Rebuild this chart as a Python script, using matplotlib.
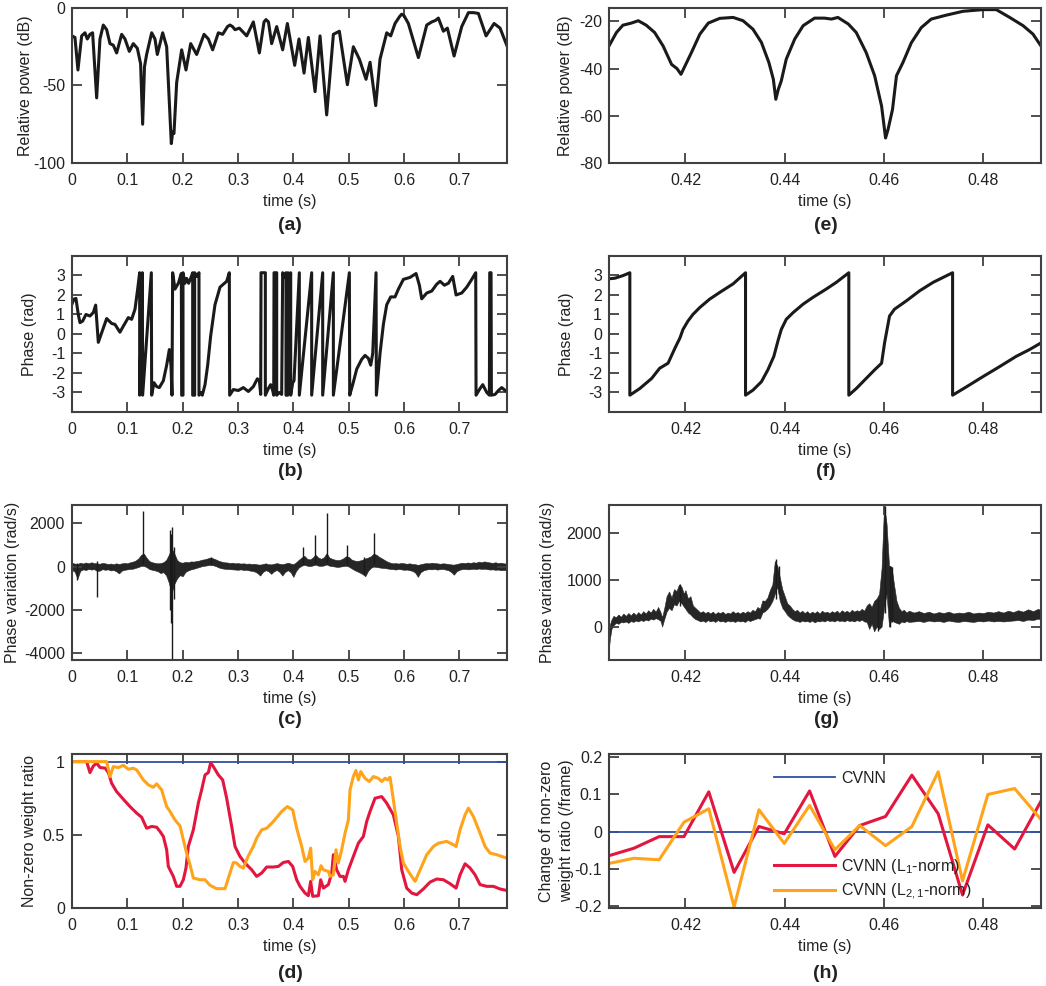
import matplotlib
matplotlib.use('Agg')
import matplotlib.pyplot as plt

plt.rcParams['font.family'] = ['Liberation Sans', 'DejaVu Sans']
plt.rcParams['mathtext.fontset'] = 'custom'
plt.rcParams['mathtext.rm'] = 'Liberation Sans'
plt.rcParams['font.size'] = 11.5

# ---- (a) relative power, full record ----
a_t = [0.0, 0.0054, 0.0108, 0.0175, 0.0235, 0.0277, 0.0325, 0.0373, 0.0446, 0.0506,
       0.0566, 0.0627, 0.0687, 0.0747, 0.0807, 0.0898, 0.0958, 0.1036, 0.1108, 0.1181,
       0.124, 0.1277, 0.131, 0.1349, 0.144, 0.15, 0.1542, 0.1639, 0.1711, 0.1795,
       0.1819, 0.1843, 0.1892, 0.1982, 0.206, 0.2145, 0.2253, 0.2386, 0.2464, 0.2542,
       0.2645, 0.2723, 0.281, 0.2855, 0.29, 0.2946, 0.3024, 0.3157, 0.3277, 0.3386,
       0.347, 0.3506, 0.355, 0.3608, 0.3699, 0.3807, 0.3892, 0.4024, 0.4102, 0.4193,
       0.4271, 0.4392, 0.4482, 0.4602, 0.4723, 0.4831, 0.4976, 0.5084, 0.5193, 0.5313,
       0.5386, 0.5488, 0.5566, 0.5687, 0.5759, 0.5837, 0.592, 0.5958, 0.6, 0.6078,
       0.6259, 0.641, 0.65, 0.657, 0.662, 0.6711, 0.6783, 0.6904, 0.7042, 0.7163,
       0.7253, 0.7343, 0.7482, 0.7627, 0.7735, 0.7855]
a_db = [-18, -19, -40, -18, -16, -20, -17, -16, -58, -20,
        -11, -14, -23, -24, -29, -17, -20, -28, -23, -26,
        -36, -75, -38, -30, -16, -20, -30, -16, -25, -87.5,
        -80, -81, -48, -27, -40, -23, -30, -17, -20, -27,
        -16, -17, -12, -11, -12, -14, -13, -18, -9, -29,
        -9, -7.5, -9, -23, -12, -27, -10, -37, -20, -42,
        -19, -54, -18, -69, -17, -15, -49.5, -25, -33, -46,
        -35, -63, -33, -16, -18, -10, -5.5, -4, -5, -10,
        -32, -11, -9, -8, -6.5, -15, -13, -31, -12, -3,
        -3, -3.5, -18, -10, -13, -24]

# ---- (e) relative power, zoom ----
e_t = [0.4046, 0.4061, 0.4074, 0.4091, 0.4105, 0.4121, 0.4138, 0.4155, 0.4172, 0.4183,
       0.4191, 0.4199, 0.4212, 0.4229, 0.4246, 0.4269, 0.4296, 0.4316, 0.4336, 0.4353,
       0.4368, 0.4377, 0.4382, 0.4387, 0.4393, 0.4403, 0.442, 0.4437, 0.446, 0.448,
       0.4494, 0.4507, 0.4528, 0.4544, 0.4564, 0.4581, 0.4595, 0.4603, 0.4608, 0.4617,
       0.4625, 0.4638, 0.4655, 0.4675, 0.4695, 0.4726, 0.4759, 0.4799, 0.4826, 0.4853,
       0.488, 0.49, 0.4916]
e_db = [-30.4, -24.7, -21.6, -20.7, -19.7, -21.6, -24.7, -30.4, -38.2, -40,
        -42.4, -38.9, -33.2, -25.4, -20.7, -18.7, -18.3, -19.7, -23.3, -28.9,
        -37.4, -44.5, -53, -48.8, -45.2, -36, -27.5, -21.8, -18.6, -18.6,
        -19, -18.3, -21.1, -24.7, -33.2, -43, -55.9, -69.4, -65.8, -57.3,
        -43, -37.4, -29, -22.6, -19, -17.3, -15.7, -15, -15, -18.3,
        -21.8, -25.4, -30.4]

# ---- (b) wrapped phase, full record ----
b_t = [0.0, 0.0036, 0.0072, 0.0114, 0.0145, 0.0193, 0.0253, 0.0325, 0.0386, 0.0428,
       0.0476, 0.0536, 0.0627, 0.0717, 0.0777, 0.0867, 0.0928, 0.1018, 0.1078, 0.1139,
       0.1187, 0.1223, 0.1223, 0.1271, 0.1277, 0.1434, 0.144, 0.1482, 0.153, 0.1578,
       0.1651, 0.1711, 0.1759, 0.1789, 0.1807, 0.1819, 0.1861, 0.1922, 0.1976, 0.1982,
       0.2006, 0.2006, 0.2042, 0.2072, 0.2108, 0.2151, 0.2181, 0.2181, 0.2217, 0.2217,
       0.2259, 0.2295, 0.2295, 0.2331, 0.2355, 0.2404, 0.2452, 0.2506, 0.2584, 0.2675,
       0.2795, 0.2843, 0.2849, 0.2916, 0.3006, 0.3096, 0.3187, 0.3277, 0.3349, 0.3386,
       0.341, 0.3416, 0.3494, 0.3494, 0.3548, 0.359, 0.3627, 0.3645, 0.3651, 0.3699,
       0.3699, 0.3747, 0.3789, 0.3807, 0.3831, 0.3867, 0.3867, 0.3898, 0.3904, 0.3928,
       0.3952, 0.3952, 0.3988, 0.4012, 0.4108, 0.4108, 0.4331, 0.4331, 0.453, 0.453,
       0.4723, 0.4723, 0.5012, 0.5018, 0.5072, 0.5145, 0.5235, 0.5295, 0.5355, 0.5398,
       0.5434, 0.5494, 0.55, 0.5566, 0.5627, 0.5687, 0.5759, 0.5837, 0.5898, 0.5988,
       0.6108, 0.6217, 0.6277, 0.6319, 0.641, 0.65, 0.659, 0.6651, 0.6729, 0.6801,
       0.6879, 0.694, 0.7042, 0.7133, 0.7223, 0.7295, 0.7301, 0.7373, 0.7422, 0.7494,
       0.7542, 0.7548, 0.7572, 0.7578, 0.7645, 0.7705, 0.7765, 0.7807, 0.7855]
b_phase = [1.53, 1.79, 1.82, 1.0, 0.58, 0.66, 1.0, 0.92, 1.1, 1.48,
           -0.43, 0.06, 0.79, 0.54, 0.49, 0.09, 0.4, 0.84, 0.75, 1.27,
           2.3, 3.14, -3.14, 3.14, -3.14, 3.14, -3.14, -2.5, -2.7, -2.75,
           -2.4, -1.6, -0.8, -1.6, -3.14, 3.14, 2.3, 2.6, 3.1, -3.14,
           -3.14, 3.14, 2.6, 2.85, 2.6, 2.9, 3.14, -3.14, -3.14, 3.14,
           2.95, 3.14, -3.14, -3.0, -3.14, -2.6, -1.6, -0.1, 1.5, 2.4,
           2.7, 3.14, -3.14, -2.85, -2.9, -2.75, -2.95, -2.7, -2.3, -2.4,
           -3.1, 3.14, 3.14, -3.14, -2.8, -2.6, -2.9, -3.14, 3.14, 3.14,
           -3.14, -3.0, -3.1, 3.14, 2.9, 3.14, -3.14, -3.14, 3.14, 2.9,
           3.14, -3.14, -2.5, -2.4, 3.14, -3.14, 3.14, -3.14, 3.14, -3.14,
           3.14, -3.14, 3.14, -3.14, -2.6, -1.8, -1.3, -1.1, -1.25, -1.6,
           -1.0, 3.14, -3.14, -1.0, 0.5, 1.5, 1.9, 1.9, 2.3, 2.8,
           2.9, 3.1, 2.5, 1.8, 2.1, 2.2, 2.55, 2.7, 2.5, 2.6,
           2.95, 2.0, 2.1, 2.4, 2.8, 3.14, -3.14, -2.8, -2.6, -3.0,
           -3.14, 3.14, 3.14, -3.14, -3.1, -2.9, -2.75, -2.85, -2.95]

# ---- (f) wrapped phase, zoom ----
f_t = [0.4046, 0.4058, 0.4075, 0.4088, 0.4088, 0.4108, 0.4132, 0.4148, 0.4165, 0.4179,
       0.4189, 0.4195, 0.4205, 0.4215, 0.4229, 0.4249, 0.4269, 0.4296, 0.4321, 0.4321,
       0.4336, 0.4353, 0.4366, 0.4378, 0.4387, 0.4393, 0.4403, 0.4417, 0.4437, 0.4457,
       0.4484, 0.4504, 0.4529, 0.4529, 0.4544, 0.4564, 0.4581, 0.4595, 0.4601, 0.4606,
       0.4611, 0.4621, 0.4645, 0.4672, 0.4699, 0.4738, 0.4738, 0.4766, 0.4799, 0.4833,
       0.4866, 0.4893, 0.4916]
f_phase = [2.83, 2.86, 3.0, 3.14, -3.14, -2.8, -2.28, -1.76, -1.5, -0.72,
           -0.2, 0.23, 0.66, 1.0, 1.36, 1.79, 2.13, 2.57, 3.14, -3.14,
           -2.88, -2.45, -1.84, -1.15, -0.29, 0.23, 0.75, 1.1, 1.53, 1.88,
           2.31, 2.65, 3.14, -3.14, -2.8, -2.28, -1.84, -1.5, -0.46, 0.23,
           0.92, 1.27, 1.7, 2.22, 2.65, 3.14, -3.14, -2.71, -2.19, -1.67,
           -1.15, -0.8, -0.46]

# ---- (c) phase variation, full record: noise envelope + spikes ----
c_t = [0.000, 0.005, 0.010, 0.015, 0.020, 0.025, 0.030, 0.035, 0.040, 0.045,
       0.050, 0.055, 0.060, 0.065, 0.070, 0.075, 0.080, 0.085, 0.090, 0.095,
       0.100, 0.105, 0.110, 0.115, 0.120, 0.125, 0.130, 0.135, 0.140, 0.145,
       0.150, 0.155, 0.160, 0.165, 0.170, 0.175, 0.180, 0.185, 0.190, 0.195,
       0.200, 0.205, 0.210, 0.215, 0.220, 0.225, 0.230, 0.235, 0.240, 0.245,
       0.250, 0.255, 0.260, 0.265, 0.270, 0.275, 0.280, 0.285, 0.290, 0.295,
       0.300, 0.305, 0.310, 0.315, 0.320, 0.325, 0.330, 0.335, 0.340, 0.345,
       0.350, 0.355, 0.360, 0.365, 0.370, 0.375, 0.380, 0.385, 0.390, 0.395,
       0.400, 0.405, 0.410, 0.415, 0.420, 0.425, 0.430, 0.435, 0.440, 0.445,
       0.450, 0.455, 0.460, 0.465, 0.470, 0.475, 0.480, 0.485, 0.490, 0.495,
       0.500, 0.505, 0.510, 0.515, 0.520, 0.525, 0.530, 0.535, 0.540, 0.545,
       0.550, 0.555, 0.560, 0.565, 0.570, 0.575, 0.580, 0.585, 0.590, 0.595,
       0.600, 0.605, 0.610, 0.615, 0.620, 0.625, 0.630, 0.635, 0.640, 0.645,
       0.650, 0.655, 0.660, 0.665, 0.670, 0.675, 0.680, 0.685, 0.690, 0.695,
       0.700, 0.705, 0.710, 0.715, 0.720, 0.725, 0.730, 0.735, 0.740, 0.745,
       0.750, 0.755, 0.760, 0.765, 0.770, 0.775, 0.780, 0.786]
c_hi = [170, 140, 120, 180, 140, 190, 150, 200, 160, 150,
        130, 170, 150, 120, 140, 110, 150, 120, 150, 170,
        150, 200, 230, 280, 380, 550, 600, 400, 250, 200,
        170, 150, 160, 200, 300, 550, 850, 600, 300, 200,
        180, 220, 200, 240, 230, 260, 280, 320, 340, 380,
        420, 380, 330, 270, 230, 200, 190, 170, 180, 150,
        160, 140, 150, 130, 140, 120, 130, 100, 90, 120,
        150, 110, 100, 130, 160, 130, 110, 140, 180, 140,
        110, 200, 320, 420, 500, 360, 330, 420, 550, 420,
        360, 430, 620, 420, 360, 320, 300, 320, 380, 480,
        450, 330, 280, 260, 280, 320, 380, 420, 480, 600,
        550, 450, 380, 300, 230, 180, 150, 160, 140, 170,
        150, 130, 150, 120, 110, 80, 110, 140, 160, 150,
        180, 160, 150, 130, 150, 140, 120, 100, 90, 120,
        150, 180, 160, 190, 170, 200, 180, 230, 200, 240,
        210, 190, 170, 200, 160, 180, 150, 140]
c_lo = [-150, -250, -560, -200, -130, -160, -110, -140, -120, -200,
        -190, -120, -150, -130, -180, -160, -220, -320, -190, -150,
        -130, -110, -100, -60, -20, 30, 30, -30, -120, -150,
        -180, -220, -300, -260, -400, -750, -1250, -800, -550, -400,
        -450, -250, -180, -130, -100, -60, -20, 20, 40, 60,
        80, 60, 20, -40, -80, -100, -110, -120, -130, -140,
        -150, -130, -160, -150, -180, -200, -230, -300, -420, -250,
        -170, -220, -340, -220, -160, -250, -420, -250, -170, -260,
        -480, -200, -40, 40, 80, 40, 20, 50, 90, 40,
        30, 50, 100, 40, 20, 0, -20, 0, 20, 40,
        0, -80, -160, -220, -280, -350, -450, -200, -60, 0,
        -20, -40, -60, -70, -90, -110, -120, -140, -110, -130,
        -150, -140, -170, -200, -280, -480, -260, -180, -140, -120,
        -130, -110, -140, -120, -110, -140, -170, -250, -380, -220,
        -150, -120, -110, -130, -120, -100, -120, -90, -110, -100,
        -120, -140, -130, -150, -140, -170, -160, -180]
c_spike_t = [0.0095, 0.0456, 0.1283, 0.1775, 0.179, 0.1815, 0.1835, 0.2505,
             0.4175, 0.4385, 0.4603, 0.4975, 0.5285, 0.5455]
c_spike_hi = [150, 250, 2580, 1700, 1500, 1850, 900, 450,
              900, 1450, 2500, 1000, 460, 1550]
c_spike_lo = [-620, -1400, 100, -2000, -2600, -4330, -1500, 50,
              100, 150, 150, 100, -350, 100]

# ---- (g) phase variation, zoom: noise envelope + spikes ----
g_t = [0.4046, 0.4048, 0.4051, 0.4055, 0.406, 0.4065, 0.407, 0.4075, 0.408, 0.4085,
       0.409, 0.4095, 0.410, 0.4105, 0.411, 0.4115, 0.412, 0.4125, 0.413, 0.4135,
       0.414, 0.4145, 0.415, 0.4153, 0.4157, 0.4162, 0.4167, 0.4172, 0.4177, 0.4182,
       0.4187, 0.4192, 0.4197, 0.420, 0.4205, 0.421, 0.4215, 0.422, 0.4225, 0.423,
       0.4235, 0.424, 0.4245, 0.425, 0.4255, 0.426, 0.4265, 0.427, 0.4275, 0.428,
       0.4285, 0.429, 0.4295, 0.430, 0.4305, 0.431, 0.4315, 0.432, 0.4325, 0.433,
       0.4335, 0.434, 0.4345, 0.435, 0.4355, 0.436, 0.4365, 0.437, 0.4375, 0.438,
       0.4385, 0.439, 0.4395, 0.440, 0.4405, 0.441, 0.4415, 0.442, 0.4425, 0.443,
       0.4435, 0.444, 0.4445, 0.445, 0.4455, 0.446, 0.4465, 0.447, 0.4475, 0.448,
       0.4485, 0.449, 0.4495, 0.450, 0.4505, 0.451, 0.4515, 0.452, 0.4525, 0.453,
       0.4535, 0.454, 0.4545, 0.455, 0.4555, 0.456, 0.4565, 0.457, 0.4575, 0.458,
       0.4585, 0.459, 0.4595, 0.460, 0.4605, 0.461, 0.4615, 0.462, 0.4625, 0.463,
       0.4635, 0.464, 0.4645, 0.465, 0.466, 0.467, 0.468, 0.469, 0.470, 0.471,
       0.472, 0.473, 0.474, 0.475, 0.476, 0.477, 0.478, 0.479, 0.480, 0.481,
       0.482, 0.483, 0.484, 0.485, 0.486, 0.487, 0.488, 0.489, 0.490, 0.491, 0.4916]
g_hi = [-150, 50, 150, 230, 200, 260, 210, 280, 230, 290,
        240, 300, 250, 310, 260, 330, 280, 350, 300, 380,
        320, 420, 300, 200, 380, 650, 750, 620, 800, 760,
        900, 850, 700, 780, 600, 650, 450, 400, 350, 300,
        330, 290, 320, 280, 320, 270, 310, 290, 320, 270,
        300, 280, 330, 290, 310, 280, 320, 290, 330, 300,
        360, 330, 420, 380, 560, 550, 620, 780, 900, 1400,
        1300, 1050, 800, 650, 500, 450, 380, 330, 360, 300,
        340, 290, 330, 280, 320, 290, 330, 280, 340, 300,
        320, 290, 330, 300, 340, 290, 350, 310, 340, 300,
        360, 320, 350, 330, 380, 340, 450, 500, 420, 550,
        600, 700, 1250, 2600, 2200, 1300, 1280, 900, 550, 400,
        330, 360, 300, 340, 300, 330, 290, 320, 280, 310,
        290, 320, 280, 300, 290, 320, 280, 300, 290, 320,
        300, 330, 300, 340, 310, 350, 320, 370, 330, 380, 350]
g_lo = [-450, -250, -50, 30, 80, 60, 100, 90, 110, 80,
        120, 100, 130, 110, 140, 120, 150, 130, 170, 150,
        180, 160, 120, 0, 150, 320, 400, 350, 480, 450,
        550, 500, 420, 380, 300, 260, 200, 160, 140, 110,
        130, 100, 140, 110, 130, 100, 140, 110, 120, 100,
        130, 110, 120, 100, 130, 110, 120, 100, 140, 120,
        140, 160, 180, 170, 300, 330, 380, 450, 550, 700,
        850, 550, 400, 330, 250, 200, 160, 130, 120, 100,
        130, 110, 120, 100, 130, 90, 120, 110, 130, 110,
        140, 120, 130, 110, 140, 120, 130, 110, 140, 120,
        130, 110, 140, 120, 150, 110, 100, -50, 60, -100,
        0, -50, 0, 400, 700, 0, 150, 100, 80, 60,
        110, 90, 120, 100, 110, 120, 100, 130, 110, 120,
        100, 130, 110, 100, 120, 110, 100, 120, 110, 130,
        110, 120, 110, 120, 130, 140, 120, 150, 140, 170, 150]
g_spike_t = [0.4189, 0.4383, 0.4388, 0.4588, 0.4601, 0.4611, 0.4616]
g_spike_hi = [900, 1450, 1300, 600, 2580, 1300, 1280]
g_spike_lo = [450, 600, 700, -100, 300, 0, 100]

# ---- (d) non-zero weight ratio ----
d_cvnn_t = [0.0, 0.786]
d_cvnn = [1.0, 1.0]
d_l1_t = [0.0, 0.0265, 0.0325, 0.0386, 0.0446, 0.0506, 0.0602, 0.0663, 0.0717, 0.0807,
          0.0928, 0.1048, 0.1169, 0.1259, 0.1349, 0.1440, 0.1530, 0.1590, 0.1651, 0.1711,
          0.1741, 0.1831, 0.1892, 0.1952, 0.2012, 0.2060, 0.2102, 0.2193, 0.2283, 0.2343,
          0.2404, 0.2464, 0.2506, 0.2554, 0.2645, 0.2723, 0.2795, 0.2886, 0.2946, 0.3036,
          0.3127, 0.3247, 0.3337, 0.3428, 0.3518, 0.3639, 0.3729, 0.3819, 0.3910, 0.3988,
          0.4060, 0.4120, 0.4211, 0.4271, 0.4313, 0.4349, 0.4452, 0.4494, 0.4542, 0.4633,
          0.4693, 0.4723, 0.4783, 0.4843, 0.4904, 0.4934, 0.4994, 0.5084, 0.5175, 0.5265,
          0.5325, 0.5386, 0.5476, 0.5596, 0.5687, 0.5807, 0.5898, 0.5958, 0.6048, 0.6139,
          0.6229, 0.6349, 0.6470, 0.6590, 0.6711, 0.6831, 0.6940, 0.7012, 0.7102, 0.7193,
          0.7283, 0.7373, 0.7494, 0.7614, 0.7735, 0.7855]
d_l1 = [1.0, 1.0, 0.925, 0.97, 0.99, 0.96, 0.955, 0.92, 0.852, 0.795,
        0.743, 0.693, 0.648, 0.62, 0.545, 0.557, 0.552, 0.523, 0.489, 0.398,
        0.284, 0.216, 0.148, 0.148, 0.193, 0.273, 0.42, 0.534, 0.716, 0.807,
        0.909, 0.925, 0.993, 0.966, 0.909, 0.875, 0.75, 0.557, 0.42, 0.352,
        0.307, 0.261, 0.216, 0.239, 0.28, 0.28, 0.284, 0.311, 0.318, 0.284,
        0.193, 0.148, 0.102, 0.084, 0.182, 0.08, 0.084, 0.193, 0.136, 0.16,
        0.239, 0.364, 0.261, 0.216, 0.216, 0.182, 0.261, 0.352, 0.443, 0.489,
        0.591, 0.66, 0.75, 0.761, 0.716, 0.636, 0.489, 0.261, 0.136, 0.102,
        0.091, 0.13, 0.177, 0.198, 0.193, 0.166, 0.136, 0.227, 0.302, 0.273,
        0.227, 0.16, 0.148, 0.148, 0.13, 0.12]
d_l21_t = [0.0, 0.0627, 0.0687, 0.0747, 0.0837, 0.0928, 0.1018, 0.1108, 0.1169, 0.1289,
           0.1380, 0.1470, 0.1530, 0.1620, 0.1711, 0.1771, 0.1861, 0.1952, 0.2012, 0.2072,
           0.2133, 0.2193, 0.2313, 0.2404, 0.2494, 0.2614, 0.2765, 0.2855, 0.2916, 0.2976,
           0.3036, 0.3096, 0.3187, 0.3277, 0.3337, 0.3428, 0.3518, 0.3639, 0.3790, 0.3892,
           0.3988, 0.4060, 0.4151, 0.4211, 0.4271, 0.4313, 0.4349, 0.4392, 0.4452, 0.4500,
           0.4542, 0.4633, 0.4663, 0.4723, 0.4771, 0.4813, 0.4873, 0.4934, 0.4994, 0.5024,
           0.5084, 0.5130, 0.5175, 0.5217, 0.5295, 0.5373, 0.5446, 0.5536, 0.5596, 0.5657,
           0.5699, 0.5747, 0.5807, 0.5867, 0.5928, 0.5988, 0.6078, 0.6199, 0.6290, 0.6410,
           0.6530, 0.6620, 0.6771, 0.6892, 0.6940, 0.7012, 0.7102, 0.7163, 0.7253, 0.7373,
           0.7464, 0.7554, 0.7675, 0.7765, 0.7855]
d_l21 = [1.0, 1.0, 0.898, 0.966, 0.959, 0.975, 0.948, 0.955, 0.943, 0.875,
         0.841, 0.825, 0.848, 0.807, 0.693, 0.66, 0.602, 0.561, 0.466, 0.375,
         0.295, 0.205, 0.193, 0.193, 0.155, 0.132, 0.132, 0.239, 0.311, 0.307,
         0.284, 0.273, 0.357, 0.42, 0.477, 0.534, 0.545, 0.591, 0.66, 0.693,
         0.67, 0.545, 0.42, 0.318, 0.341, 0.409, 0.193, 0.25, 0.227, 0.289,
         0.261, 0.25, 0.216, 0.227, 0.398, 0.307, 0.398, 0.511, 0.602, 0.807,
         0.898, 0.939, 0.875, 0.932, 0.886, 0.864, 0.898, 0.886, 0.864, 0.886,
         0.875, 0.893, 0.739, 0.58, 0.42, 0.307, 0.25, 0.182, 0.261, 0.364,
         0.42, 0.443, 0.455, 0.432, 0.42, 0.534, 0.636, 0.682, 0.625, 0.511,
         0.42, 0.375, 0.364, 0.352, 0.341]

# ---- (h) change of non-zero weight ratio per frame ----
h_t = [0.4046, 0.4096, 0.4147, 0.4197, 0.4247, 0.4298, 0.4348, 0.4399, 0.4450, 0.4501,
       0.4551, 0.4603, 0.4656, 0.4709, 0.4758, 0.4809, 0.4863, 0.4915]
h_cvnn = [0.0] * 18
h_l1 = [-0.065, -0.045, -0.0136, -0.0136, 0.107, -0.11, 0.0136, -0.006, 0.1095, -0.067,
        0.0163, 0.0407, 0.152, 0.048, -0.171, 0.0181, -0.047, 0.0796]
h_l21 = [-0.086, -0.072, -0.076, 0.0253, 0.0615, -0.203, 0.0588, -0.032, 0.0706, -0.049,
         0.0163, -0.038, 0.0136, 0.161, -0.133, 0.1, 0.116, 0.034]

BLACK = '#1a1a1a'
NOISE = '#262626'
FRAME = '#404040'
TEXT = '#222222'
BLUE = '#2f4fa5'
RED = '#e3163f'
ORANGE = '#ffa31a'

full_ticks = [0, 0.1, 0.2, 0.3, 0.4, 0.5, 0.6, 0.7]
full_labels = ['0', '0.1', '0.2', '0.3', '0.4', '0.5', '0.6', '0.7']
zoom_ticks = [0.42, 0.44, 0.46, 0.48]
zoom_labels = ['0.42', '0.44', '0.46', '0.48']

fig = plt.figure(figsize=(10.46, 9.86), dpi=100)

L = [0.0688, 0.4159]
R = [0.5822, 0.4130]
rows = [(0.8347, 0.1572), (0.5822, 0.1582), (0.3306, 0.1577), (0.0791, 0.1562)]


def make_axes(col, row):
    b, h = rows[row]
    ax = fig.add_axes([col[0], b, col[1], h])
    for s in ax.spines.values():
        s.set_color(FRAME)
        s.set_linewidth(1.5)
    ax.tick_params(direction='in', length=7, width=1.3, color=FRAME,
                   top=True, right=True, labelcolor=TEXT, labelsize=11.5)
    ax.tick_params(axis='x', pad=7.5)
    ax.tick_params(axis='y', pad=5)
    ax.set_xlabel('time (s)', color=TEXT, labelpad=4)
    return ax


def set_full_x(ax):
    ax.set_xlim(0, 0.786)
    ax.set_xticks(full_ticks)
    ax.set_xticklabels(full_labels)


def set_zoom_x(ax):
    ax.set_xlim(0.4046, 0.4916)
    ax.set_xticks(zoom_ticks)
    ax.set_xticklabels(zoom_labels)


# (a)
ax = make_axes(L, 0)
ax.plot(a_t, a_db, color=BLACK, lw=2.2)
set_full_x(ax)
ax.set_ylim(-100, 0)
ax.set_yticks([-100, -50, 0])
ax.set_yticklabels(['-100', '-50', '0'])
ax.set_ylabel('Relative power (dB)', color=TEXT, labelpad=0)

# (e)
ax = make_axes(R, 0)
ax.plot(e_t, e_db, color=BLACK, lw=2.2)
set_zoom_x(ax)
ax.set_ylim(-80, -14.3)
ax.set_yticks([-80, -60, -40, -20])
ax.set_yticklabels(['-80', '-60', '-40', '-20'])
ax.set_ylabel('Relative power (dB)', color=TEXT, labelpad=4)

# (b)
ax = make_axes(L, 1)
ax.plot(b_t, b_phase, color=BLACK, lw=2.2)
set_full_x(ax)
ax.set_ylim(-4, 4)
ax.set_yticks([-3, -2, -1, 0, 1, 2, 3])
ax.set_yticklabels(['-3', '-2', '-1', '0', '1', '2', '3'])
ax.set_ylabel('Phase (rad)', color=TEXT, labelpad=10)

# (f)
ax = make_axes(R, 1)
ax.plot(f_t, f_phase, color=BLACK, lw=2.2)
set_zoom_x(ax)
ax.set_ylim(-4, 4)
ax.set_yticks([-3, -2, -1, 0, 1, 2, 3])
ax.set_yticklabels(['-3', '-2', '-1', '0', '1', '2', '3'])
ax.set_ylabel('Phase (rad)', color=TEXT, labelpad=10)

# (c)
ax = make_axes(L, 2)
ax.fill_between(c_t, c_lo, c_hi, facecolor=NOISE, edgecolor=NOISE, lw=0.4)
ax.vlines(c_spike_t, c_spike_lo, c_spike_hi, color=BLACK, lw=1.0)
set_full_x(ax)
ax.set_ylim(-4340, 2880)
ax.set_yticks([-4000, -2000, 0, 2000])
ax.set_yticklabels(['-4000', '-2000', '0', '2000'])
ax.set_ylabel('Phase variation (rad/s)', color=TEXT, labelpad=3)

# (g)
ax = make_axes(R, 2)
ax.fill_between(g_t, g_lo, g_hi, facecolor=NOISE, edgecolor=NOISE, lw=0.4)
ax.vlines(g_spike_t, g_spike_lo, g_spike_hi, color=BLACK, lw=1.0)
set_zoom_x(ax)
ax.set_ylim(-713, 2606)
ax.set_yticks([0, 1000, 2000])
ax.set_yticklabels(['0', '1000', '2000'])
ax.set_ylabel('Phase variation (rad/s)', color=TEXT, labelpad=8)

# (d)
ax = make_axes(L, 3)
ax.plot(d_cvnn_t, d_cvnn, color=BLUE, lw=1.3)
ax.plot(d_l1_t, d_l1, color=RED, lw=2.2)
ax.plot(d_l21_t, d_l21, color=ORANGE, lw=2.2)
set_full_x(ax)
ax.set_ylim(0, 1.052)
ax.set_yticks([0, 0.5, 1])
ax.set_yticklabels(['0', '0.5', '1'])
ax.set_ylabel('Non-zero weight ratio', color=TEXT, labelpad=4)

# (h)
ax = make_axes(R, 3)
hb, = ax.plot(h_t, h_cvnn, color=BLUE, lw=1.3)
hr, = ax.plot(h_t, h_l1, color=RED, lw=2.2)
ho, = ax.plot(h_t, h_l21, color=ORANGE, lw=2.2)
set_zoom_x(ax)
ax.set_ylim(-0.206, 0.209)
ax.set_yticks([-0.2, -0.1, 0, 0.1, 0.2])
ax.set_yticklabels(['-0.2', '-0.1', '0', '0.1', '0.2'])
ax.set_ylabel('Change of non-zero\nweight ratio (/frame)', color=TEXT, labelpad=0)
ax.yaxis.label.set_linespacing(1.45)
leg1 = ax.legend([hb], ['CVNN'], loc='center left', bbox_to_anchor=(0.382, 0.844),
                 frameon=False, borderpad=0, borderaxespad=0, handlelength=3.8,
                 handletextpad=0.4, fontsize=11.5)
for t in leg1.get_texts():
    t.set_color(TEXT)
ax.add_artist(leg1)
leg2 = ax.legend([hr, ho], ['CVNN (L$_1$-norm)', 'CVNN (L$_{2,1}$-norm)'],
                 loc='center left', bbox_to_anchor=(0.382, 0.186),
                 frameon=False, borderpad=0, borderaxespad=0, handlelength=3.8,
                 handletextpad=0.4, labelspacing=0.35, fontsize=11.5)
for t in leg2.get_texts():
    t.set_color(TEXT)

# captions under each panel
caps_left = ['(a)', '(b)', '(c)', '(d)']
caps_right = ['(e)', '(f)', '(g)', '(h)']
cap_y = [225, 472, 719, 973]
for i in range(4):
    fig.text(290 / 1046, 1 - cap_y[i] / 986, caps_left[i], ha='center', va='center',
             fontsize=14, fontweight='bold', color=TEXT)
    fig.text(826 / 1046, 1 - cap_y[i] / 986, caps_right[i], ha='center', va='center',
             fontsize=14, fontweight='bold', color=TEXT)

fig.savefig('out.png', dpi=100)
